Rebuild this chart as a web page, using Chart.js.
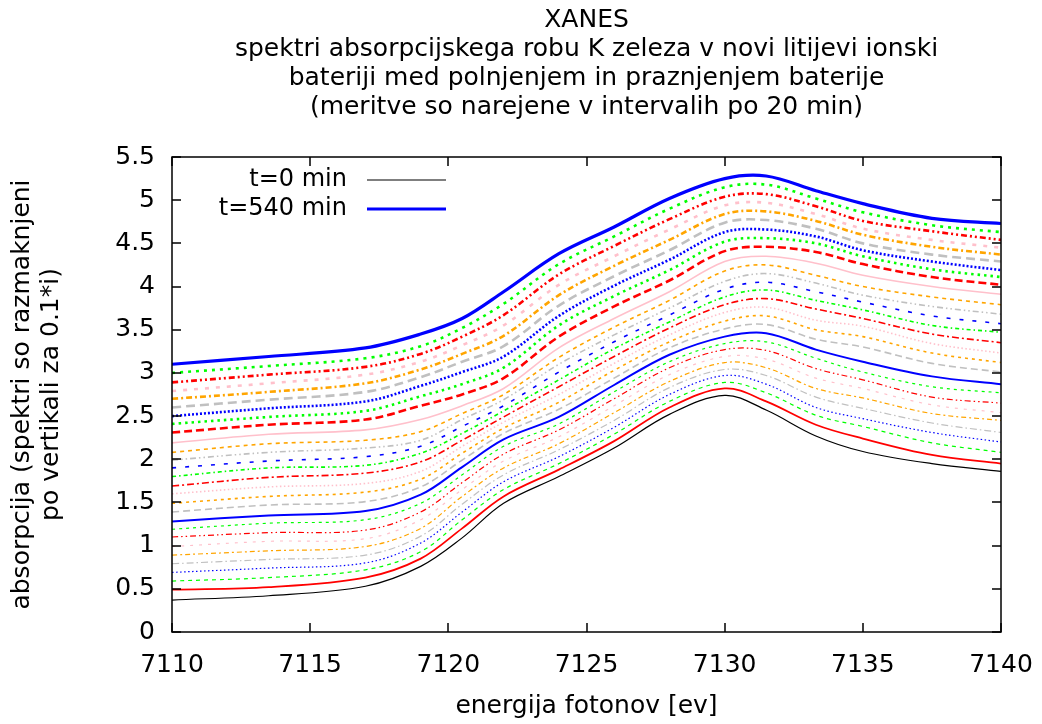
<!DOCTYPE html>
<html>
<head>
<meta charset="utf-8">
<title>XANES</title>
<script src="https://cdn.jsdelivr.net/npm/chart.js@4/dist/chart.umd.min.js"></script>
<style>
  html, body { margin: 0; padding: 0; background: #fff; }
  #wrap { width: 1042px; height: 724px; }
</style>
</head>
<body>
<div id="wrap"><canvas id="xanesChart" width="1042" height="724"></canvas></div>
<script>
// energije, pri katerih so odčitane točke spektrov
const energies = [7110, 7113.5, 7117, 7119, 7120.5, 7122, 7124, 7126, 7128, 7130, 7131.5, 7133.3, 7135, 7137.5, 7140];

// spektri (že razmaknjeni za 0.1*i)
const t0   = [0.37, 0.42, 0.53, 0.76, 1.09, 1.49, 1.80, 2.13, 2.52, 2.74, 2.57, 2.27, 2.09, 1.95, 1.86];
const t20  = [0.49, 0.52, 0.63, 0.85, 1.20, 1.57, 1.88, 2.21, 2.60, 2.82, 2.67, 2.40, 2.24, 2.05, 1.95];
const t40  = [0.59, 0.63, 0.72, 0.93, 1.30, 1.65, 1.95, 2.29, 2.67, 2.89, 2.77, 2.51, 2.38, 2.19, 2.08];
const t60  = [0.69, 0.74, 0.80, 1.03, 1.39, 1.74, 2.03, 2.37, 2.75, 2.97, 2.87, 2.60, 2.47, 2.31, 2.20];
const t80  = [0.79, 0.84, 0.89, 1.11, 1.48, 1.82, 2.11, 2.45, 2.83, 3.04, 2.97, 2.72, 2.59, 2.42, 2.31];
const t100 = [0.89, 0.94, 0.99, 1.20, 1.57, 1.90, 2.18, 2.54, 2.90, 3.12, 3.06, 2.82, 2.71, 2.53, 2.45];
const t120 = [0.99, 1.05, 1.08, 1.30, 1.65, 1.98, 2.26, 2.62, 2.98, 3.19, 3.16, 2.94, 2.82, 2.63, 2.54];
const t140 = [1.10, 1.15, 1.18, 1.39, 1.73, 2.06, 2.34, 2.70, 3.06, 3.27, 3.26, 3.05, 2.92, 2.72, 2.65];
const t160 = [1.19, 1.26, 1.30, 1.49, 1.82, 2.15, 2.41, 2.78, 3.13, 3.34, 3.36, 3.17, 3.01, 2.84, 2.77];
const t180 = [1.28, 1.35, 1.40, 1.59, 1.91, 2.23, 2.49, 2.86, 3.21, 3.42, 3.46, 3.27, 3.13, 2.96, 2.87];
const t200 = [1.39, 1.47, 1.51, 1.68, 1.99, 2.30, 2.58, 2.94, 3.29, 3.51, 3.56, 3.39, 3.30, 3.11, 3.01];
const t220 = [1.49, 1.57, 1.62, 1.77, 2.07, 2.36, 2.66, 3.03, 3.36, 3.60, 3.66, 3.50, 3.42, 3.23, 3.12];
const t240 = [1.60, 1.68, 1.72, 1.86, 2.15, 2.43, 2.75, 3.11, 3.44, 3.70, 3.76, 3.61, 3.54, 3.34, 3.23];
const t260 = [1.69, 1.79, 1.84, 1.97, 2.22, 2.49, 2.84, 3.19, 3.52, 3.79, 3.86, 3.74, 3.63, 3.45, 3.35];
const t280 = [1.80, 1.90, 1.93, 2.07, 2.30, 2.56, 2.92, 3.28, 3.59, 3.88, 3.96, 3.84, 3.73, 3.55, 3.47];
const t300 = [1.90, 1.98, 2.03, 2.15, 2.38, 2.62, 3.01, 3.36, 3.67, 3.97, 4.05, 3.94, 3.82, 3.66, 3.57];
const t320 = [1.99, 2.08, 2.13, 2.22, 2.46, 2.69, 3.10, 3.44, 3.75, 4.06, 4.15, 4.04, 3.90, 3.77, 3.68];
const t340 = [2.08, 2.18, 2.22, 2.32, 2.53, 2.75, 3.18, 3.53, 3.84, 4.18, 4.25, 4.13, 4.00, 3.88, 3.79];
const t360 = [2.19, 2.29, 2.34, 2.46, 2.62, 2.82, 3.29, 3.63, 3.94, 4.29, 4.35, 4.27, 4.13, 4.00, 3.91];
const t380 = [2.31, 2.40, 2.46, 2.62, 2.75, 2.94, 3.42, 3.77, 4.07, 4.41, 4.46, 4.40, 4.26, 4.11, 4.02];
const t400 = [2.41, 2.49, 2.56, 2.73, 2.87, 3.06, 3.55, 3.89, 4.19, 4.52, 4.56, 4.50, 4.35, 4.20, 4.11];
const t420 = [2.50, 2.59, 2.67, 2.85, 3.01, 3.19, 3.66, 4.01, 4.31, 4.63, 4.66, 4.58, 4.42, 4.29, 4.19];
const t440 = [2.60, 2.69, 2.78, 2.95, 3.13, 3.31, 3.78, 4.12, 4.42, 4.74, 4.77, 4.67, 4.50, 4.37, 4.29];
const t460 = [2.70, 2.78, 2.88, 3.04, 3.22, 3.43, 3.90, 4.24, 4.54, 4.84, 4.87, 4.76, 4.60, 4.46, 4.37];
const t480 = [2.79, 2.88, 2.98, 3.13, 3.32, 3.55, 4.02, 4.35, 4.66, 4.94, 4.97, 4.84, 4.67, 4.54, 4.45];
const t500 = [2.89, 2.98, 3.07, 3.22, 3.42, 3.67, 4.14, 4.47, 4.78, 5.04, 5.07, 4.93, 4.76, 4.64, 4.54];
const t520 = [3.00, 3.08, 3.17, 3.31, 3.52, 3.80, 4.26, 4.58, 4.90, 5.15, 5.18, 5.02, 4.86, 4.71, 4.63];
const t540 = [3.10, 3.19, 3.29, 3.45, 3.63, 3.94, 4.38, 4.69, 5.02, 5.25, 5.28, 5.11, 4.96, 4.79, 4.73];

const spectra = [t0, t20, t40, t60, t80, t100, t120, t140, t160, t180, t200, t220, t240, t260,
  t280, t300, t320, t340, t360, t380, t400, t420, t440, t460, t480, t500, t520, t540];
const times = [0, 20, 40, 60, 80, 100, 120, 140, 160, 180, 200, 220, 240, 260,
  280, 300, 320, 340, 360, 380, 400, 420, 440, 460, 480, 500, 520, 540];

const xTicks = [7110, 7115, 7120, 7125, 7130, 7135, 7140];
const yTicks = [0, 0.5, 1, 1.5, 2, 2.5, 3, 3.5, 4, 4.5, 5, 5.5];

// gnuplot barve in črte
const palette = ['#ff0000', '#00ff00', '#0000ff', '#c0c0c0', '#ffa500', '#ffc0cb'];
const dashes = [
  [], [], [4, 4], [1.5, 2.5], [7, 3, 1.5, 3], [5, 3, 2, 3], [3, 6], [6, 3, 1.5, 3, 1.5, 3], [3, 4],
  [], [7, 4], [3, 4], [1.5, 2.5], [7, 3, 2, 3], [4, 3, 1.5, 3], [4, 9], [6, 3, 1.5, 3, 1.5, 3], [4, 4], [],
  [8, 4], [2.5, 4], [2, 2], [9, 5], [6, 3, 2, 3], [4, 7], [6, 3, 2, 3, 2, 3], [3, 5], []
];

function lineWidth(i) {
  if (i === 0) return 1.2;
  if (i === 1) return 1.8;
  if (i === 9) return 2;
  if (i < 9) return 1.2;
  if (i < 19) return 1.6;
  if (i === 27) return 3.2;
  return 2.6;
}

const FONT = 'DejaVu Sans';
Chart.defaults.font.family = FONT;
Chart.defaults.font.size = 25;
Chart.defaults.color = '#000';

// legenda kot v gnuplotu: besedilo, nato črta
const legendPlugin = {
  id: 'gnuLegend',
  afterDatasetsDraw(chart) {
    const ctx = chart.ctx;
    const a = chart.chartArea;
    const shown = [0, spectra.length - 1];
    ctx.save();
    ctx.font = '24px "' + FONT + '"';
    ctx.textAlign = 'right';
    ctx.textBaseline = 'middle';
    shown.forEach((idx, k) => {
      const ds = chart.data.datasets[idx];
      const y = a.top + 23 + k * 29;
      ctx.fillStyle = '#000';
      ctx.fillText(ds.label, a.left + 175, y);
      ctx.strokeStyle = ds.borderColor;
      ctx.lineWidth = ds.borderWidth;
      ctx.setLineDash([]);
      ctx.beginPath();
      ctx.moveTo(a.left + 195, y);
      ctx.lineTo(a.left + 274, y);
      ctx.stroke();
    });
    ctx.restore();
  }
};

// okvir z notranjimi oznakami
const framePlugin = {
  id: 'frame',
  afterDraw(chart) {
    const ctx = chart.ctx;
    const a = chart.chartArea;
    const x = chart.scales.x, y = chart.scales.y;
    const len = 9;
    ctx.save();
    ctx.strokeStyle = '#000';
    ctx.lineWidth = 1.5;
    ctx.setLineDash([]);
    ctx.strokeRect(a.left, a.top, a.right - a.left, a.bottom - a.top);
    ctx.beginPath();
    x.ticks.forEach(t => {
      const px = Math.round(x.getPixelForValue(t.value));
      ctx.moveTo(px, a.bottom); ctx.lineTo(px, a.bottom - len);
      ctx.moveTo(px, a.top); ctx.lineTo(px, a.top + len);
    });
    y.ticks.forEach(t => {
      const py = Math.round(y.getPixelForValue(t.value));
      ctx.moveTo(a.left, py); ctx.lineTo(a.left + len, py);
      ctx.moveTo(a.right, py); ctx.lineTo(a.right - len, py);
    });
    ctx.stroke();
    ctx.restore();
  }
};

const ctx = document.getElementById('xanesChart').getContext('2d');
new Chart(ctx, {
  type: 'line',
  data: {
    datasets: spectra.map((vals, i) => ({
      label: 't=' + times[i] + ' min',
      data: energies.map((e, k) => ({ x: e, y: vals[k] })),
      borderColor: i === 0 ? '#000000' : palette[(i - 1) % palette.length],
      borderWidth: lineWidth(i),
      borderDash: dashes[i],
      pointRadius: 0,
      fill: false,
      tension: 0.35
    }))
  },
  options: {
    responsive: false,
    animation: false,
    layout: { padding: { left: 0, right: 41, top: 0, bottom: 0 } },
    plugins: {
      legend: { display: false },
      tooltip: { enabled: false },
      title: {
        display: true,
        fullSize: false,
        text: [
          'XANES',
          'spektri absorpcijskega robu K zeleza v novi litijevi ionski',
          'bateriji med polnjenjem in praznjenjem baterije',
          '(meritve so narejene v intervalih po 20 min)'
        ],
        font: { size: 25, weight: 'normal', lineHeight: '29px' },
        padding: { top: 5.5, bottom: 35.5 }
      }
    },
    scales: {
      x: {
        type: 'linear',
        min: 7110,
        max: 7140,
        afterBuildTicks: s => { s.ticks = xTicks.map(v => ({ value: v })); },
        afterFit: s => { s.height = 92; s.paddingLeft = 0; s.paddingRight = 0; },
        grid: { display: false, drawTicks: false },
        border: { display: false },
        ticks: { padding: 18, maxRotation: 0, callback: v => String(v) },
        title: { display: true, text: 'energija fotonov [ev]', padding: { top: 0, bottom: 3 } }
      },
      y: {
        min: 0,
        max: 5.5,
        afterBuildTicks: s => { s.ticks = yTicks.map(v => ({ value: v })); },
        afterFit: s => { s.width = 172; },
        grid: { display: false, drawTicks: false },
        border: { display: false },
        ticks: { padding: 17, callback: v => String(v) },
        title: {
          display: true,
          text: ['absorpcija (spektri so razmaknjeni', 'po vertikali za 0.1*i)'],
          font: { size: 25, lineHeight: '29px' },
          padding: { top: 7.5, bottom: 0 }
        }
      }
    }
  },
  plugins: [legendPlugin, framePlugin]
});
</script>
</body>
</html>
